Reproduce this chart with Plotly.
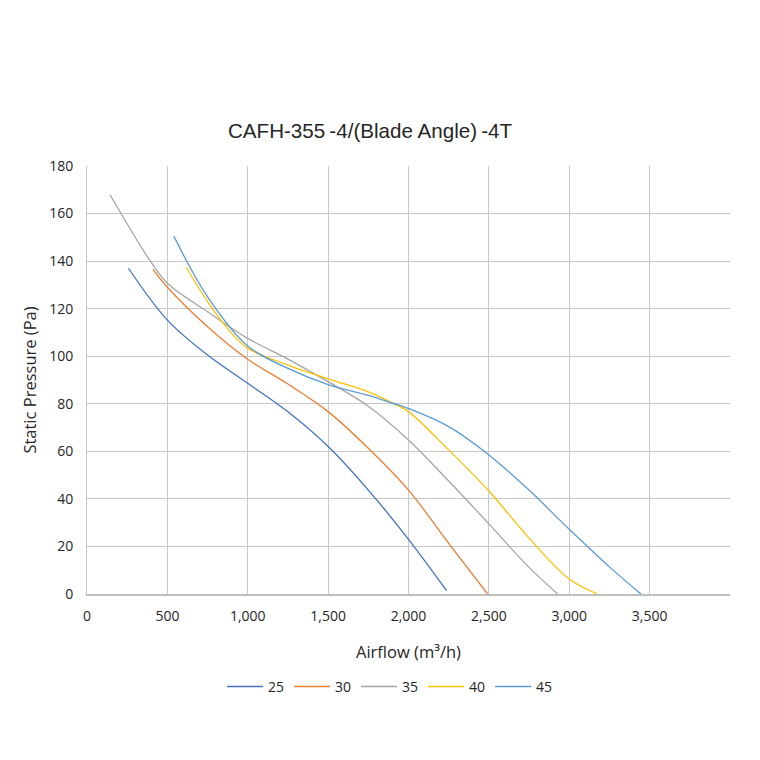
import plotly.graph_objects as go

# Blade angle series: airflow (m³/h) and static pressure (Pa)
x25 = [258, 500, 750, 1000, 1250, 1500, 1750, 2000, 2237]
y25 = [137, 115.2, 100.5, 88.6, 76.6, 62, 43.7, 23, 1.4]

x30 = [410, 500, 750, 1000, 1250, 1500, 1750, 2000, 2250, 2492]
y30 = [136.5, 129, 112.4, 98.7, 88.3, 76.7, 61.3, 43.7, 21.3, 0]

x35 = [144, 394, 500, 750, 1000, 1250, 1500, 1750, 2000, 2250, 2500, 2750, 2928]
y35 = [167.8, 140, 130.7, 118.7, 107.5, 98.8, 89.3, 79, 64.8, 47.5, 29.5, 11.2, 0]

x40 = [617, 750, 883, 1000, 1250, 1500, 1750, 1904, 2000, 2250, 2500, 2750, 3000, 3175]
y40 = [137.4, 123, 111, 103.3, 96.3, 90.5, 85, 80.2, 76.7, 60.6, 43.3, 23.5, 6.3, 0]

x45 = [540, 750, 1000, 1250, 1500, 1750, 1904, 2000, 2250, 2500, 2750, 3000, 3250, 3446]
y45 = [150.5, 125, 104.3, 94.9, 88.1, 83.5, 80.2, 78, 70.4, 58.5, 43.7, 27.2, 11.4, 0]

names = ["25", "30", "35", "40", "45"]
colors = ["#4472C4", "#ED7D31", "#A5A5A5", "#FFC000", "#5B9BD5"]
xs = [x25, x30, x35, x40, x45]
ys = [y25, y30, y35, y40, y45]

x_ticks = [0, 500, 1000, 1500, 2000, 2500, 3000, 3500]
x_ticklabels = ["0", "500", "1,000", "1,500", "2,000", "2,500", "3,000", "3,500"]
y_ticks = [0, 20, 40, 60, 80, 100, 120, 140, 160, 180]

fig = go.Figure()
for n, c, xx, yy in zip(names, colors, xs, ys):
    fig.add_trace(go.Scatter(x=xx, y=yy, name=n, mode="lines",
                             line=dict(color=c, width=1.3, shape="spline", smoothing=1.0)))

font_family = "Open Sans, Liberation Sans, sans-serif"
title_family = "Liberation Sans, Arial, sans-serif"
txt = "#262626"
fig.update_layout(
    width=760, height=760,
    paper_bgcolor="white", plot_bgcolor="white",
    # page body has an 8px default margin, so offsets are compensated here
    margin=dict(l=79, r=38, t=158, b=174),
    font=dict(family=font_family, color=txt, size=14),
    title=dict(text="CAFH-355\u2009-4/(Blade Angle)\u2009-4T", x=(370 - 8) / 760, xanchor="center",
               y=1 - 123 / 760, yanchor="middle",
               font=dict(size=20.6, color=txt, family=title_family)),
    xaxis=dict(range=[0, 4000], tickvals=x_ticks + [4000], ticktext=x_ticklabels + [""],
               automargin=False,
               showgrid=True, gridcolor="#C8C8C8", gridwidth=1,
               showline=True, linecolor="#BFBFBF", linewidth=1.5, mirror=False,
               zeroline=False, ticks="", ticklen=0, ticklabelstandoff=8,
               title=dict(text="Airflow (m³/h)", standoff=23, font=dict(size=16.5)),
               tickfont=dict(size=14, color=txt)),
    yaxis=dict(range=[0, 180], tickvals=y_ticks, automargin=False,
               showgrid=True, gridcolor="#C8C8C8", gridwidth=1,
               showline=True, linecolor="#C8C8C8", linewidth=1,
               zeroline=False, ticks="", ticklen=0, ticklabelstandoff=10,
               title=dict(text="Static Pressure (Pa)", standoff=8, font=dict(size=16.5)),
               tickfont=dict(size=14, color=txt)),
    legend=dict(orientation="h", x=(214 - 79) / 643, xanchor="left", y=-0.217, yanchor="middle",
                font=dict(size=14, color=txt), itemwidth=36,
                bgcolor="rgba(0,0,0,0)"),
)

fig.write_html("out.html")
